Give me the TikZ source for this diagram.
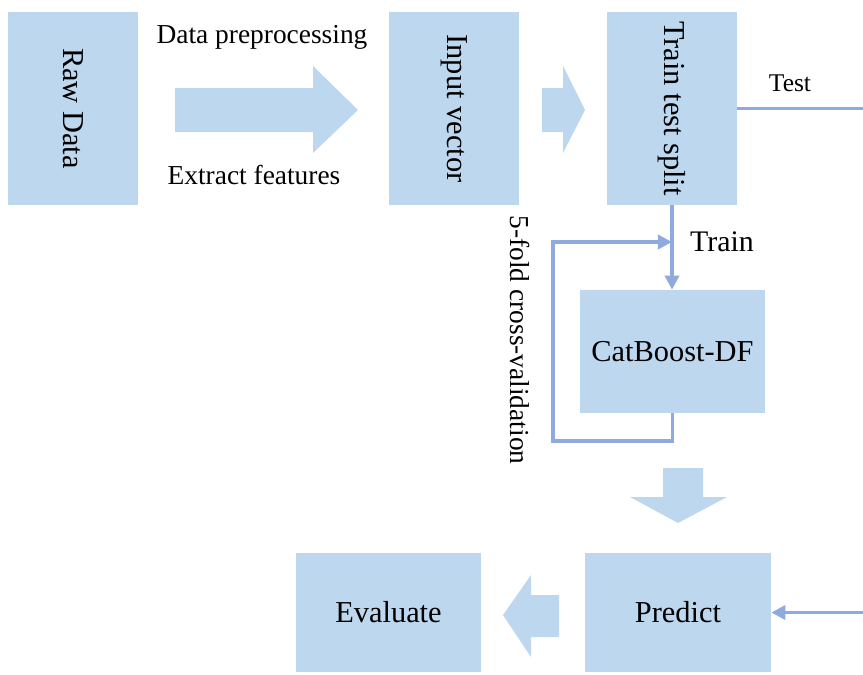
\documentclass[tikz,border=0pt]{standalone}
\usepackage{fontspec}
\setmainfont{Liberation Serif}
\usetikzlibrary{arrows.meta,positioning}
\definecolor{boxblue}{HTML}{BDD7EE}
\definecolor{lineblue}{HTML}{8FAADC}

\begin{document}
\begin{tikzpicture}[x=0.02cm,y=-0.02cm,>={Triangle[length=8pt,width=8pt]},
    flowline/.style={draw=lineblue,line width=2pt},
    tallbox/.style={rectangle,fill=boxblue,minimum width=2.6cm,minimum height=3.86cm,inner sep=0pt,font=\fontsize{17.3}{20}\selectfont},
    widebox/.style={rectangle,fill=boxblue,minimum width=3.72cm,minimum height=2.38cm,inner sep=0pt,font=\fontsize{17.3}{20}\selectfont},
    steplabel/.style={inner sep=0pt,font=\fontsize{15.6}{18}\selectfont}]
    \tikzstyle{blockarrow}=[fill=boxblue]
    \useasboundingbox (0,0) rectangle (863,674);

    \node[tallbox] (raw)   at (73,108.5)  {\rotatebox{-90}{Raw Data}};
    \node[tallbox] (input) at (454,108.5) {\rotatebox{-90}{Input vector}};
    \node[tallbox] (split) at (672,108.5) {\rotatebox{-90}{Train test split}};
    \node[widebox, minimum height=2.46cm] (cat) at (672.5,351.5) {CatBoost-DF};
    \node[widebox] (predict)  at (678,612.5)   {Predict};
    \node[widebox] (evaluate) at (388.5,612.5) {Evaluate};

    \node[steplabel] (prep) at (262,37)  {Data preprocessing};
    \node[steplabel] (feat) at (254,175) {Extract features};
    \node[steplabel, font=\fontsize{14.5}{17}\selectfont] (test) at (790,83) {Test};
    \node[steplabel, font=\fontsize{17}{20}\selectfont] (train) at (722,242) {Train};
    \node[steplabel] (cv) at (520,340) {\rotatebox{-90}{5-fold cross-validation}};

    \fill[blockarrow] (175,88) -- (313,88) -- (313,66) -- (358,110) -- (313,153) -- (313,132) -- (175,132) -- cycle;
    \fill[blockarrow] (542,88) -- (563,88) -- (563,66) -- (585,110) -- (563,153) -- (563,132) -- (542,132) -- cycle;
    \fill[blockarrow] (663,468) -- (703,468) -- (703,497) -- (727,497) -- (678,523) -- (630,497) -- (663,497) -- cycle;
    \fill[blockarrow] (559,595) -- (531,595) -- (531,575) -- (503,615) -- (531,657) -- (531,637) -- (559,637) -- cycle;

    \coordinate (rside) at (872,0);
    \coordinate (loopl) at (553,441);
    \coordinate (loopt) at (0,242);
    \draw[flowline,->] (split.east) -- (split.east -| rside) |- (predict.east);
    \draw[flowline,->] (split.south) -- (split.south |- cat.north);
    \draw[flowline,->] (cat.south) |- (loopl) |- (split.south |- loopt);
\end{tikzpicture}
\end{document}
